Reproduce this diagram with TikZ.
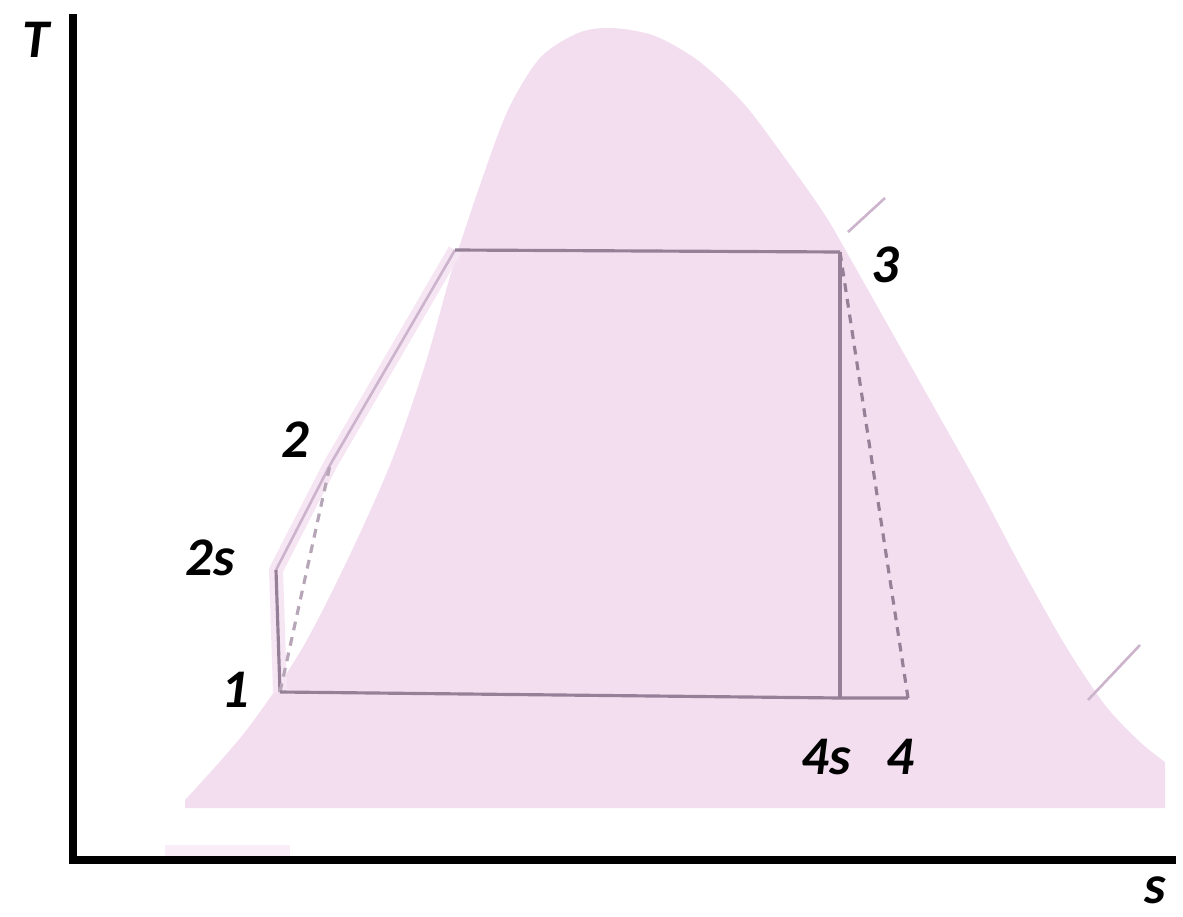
\documentclass[tikz,border=0pt]{standalone}
\usepackage{fontspec}
\setmainfont{Carlito}
\usetikzlibrary{positioning}

\definecolor{domepink}{RGB}{243,222,240}
\definecolor{bandpink}{RGB}{246,230,244}
\definecolor{cycline}{RGB}{150,128,152}
\definecolor{faintline}{RGB}{205,180,205}

\begin{document}
\begin{tikzpicture}[x=0.02cm, y=-0.02cm,
    statelbl/.style={font=\fontsize{31}{33}\selectfont\bfseries\itshape, inner sep=0pt},
    cyc/.style={cycline, line width=1.8pt},
    cycdash/.style={cyc, dash pattern=on 5pt off 4pt},
    axis/.style={line width=4pt}]
  \useasboundingbox (0,0) rectangle (1183,916);

  % Vapour dome (shaded)
  \fill[domepink] plot[smooth, tension=0.5] coordinates {
      (185,800) (245,732) (300,652) (345,565) (390,465) (425,365)
      (452,270) (480,185) (508,110) (540,58) (578,33) (612,28)
      (655,36) (700,62) (745,105) (790,165) (825,215)
      (850,258) (885,320) (930,400) (975,480) (1020,565) (1065,645)
      (1105,705) (1140,742) (1165,762)}
    -- (1165,808) -- (185,808) -- cycle;
  \fill[domepink!50!white] (165,845) rectangle (290,856);

  % Cycle state points
  \coordinate (p1)  at (280,692);
  \coordinate (p2s) at (276,570);
  \coordinate (p2)  at (330,465);
  \coordinate (top) at (455,250);
  \coordinate (p3)  at (840,252);
  \coordinate (p4s) at (840,698);
  \coordinate (p4)  at (908,698);

  % Compressed liquid band
  \draw[bandpink, line width=8pt, line join=round] (p1) -- (p2s) -- (p2) -- (top);

  % Superheat stubs
  \coordinate (sh1a) at (848,232);
  \coordinate (sh1b) at (885,198);
  \coordinate (sh2a) at (1088,700);
  \coordinate (sh2b) at (1140,645);
  \draw[faintline, line width=1.5pt] (sh1a) -- (sh1b);
  \draw[faintline, line width=1.5pt] (sh2a) -- (sh2b);

  % Cycle
  \draw[faintline, line width=1.5pt] (p2s) -- (p2) -- (top);
  \draw[cyc] (top) -- (p3);
  \draw[cyc] (p1) -- (p2s);
  \draw[cycdash, cycline!70] (p1) -- (p2);
  \draw[cyc] (p3) -- (p4s);
  \draw[cycdash] (p3) -- (p4);
  \draw[cyc] (p4) -- (p4s) -- (p1);

  % Labels
  \node[statelbl] (l1)  at (235,690) {1};
  \node[statelbl] (l2s) at (210,558) {2s};
  \node[statelbl] (l2)  at (295,440) {2};
  \node[statelbl] (l3)  at (885,265) {3};
  \node[statelbl] (l4s) at (826,757) {4s};
  \node[statelbl] (l4)  at (900,757) {4};

  % Axes
  \coordinate (origin) at (73,860);
  \coordinate (tmax) at (73,18);
  \coordinate (smax) at (1172,860);
  \draw[axis, line cap=rect] (tmax) -- (origin) -- (smax);
  \node[statelbl] (lT) at (36,40) {T};
  \node[statelbl] (ls) at (1155,890) {s};
\end{tikzpicture}
\end{document}
